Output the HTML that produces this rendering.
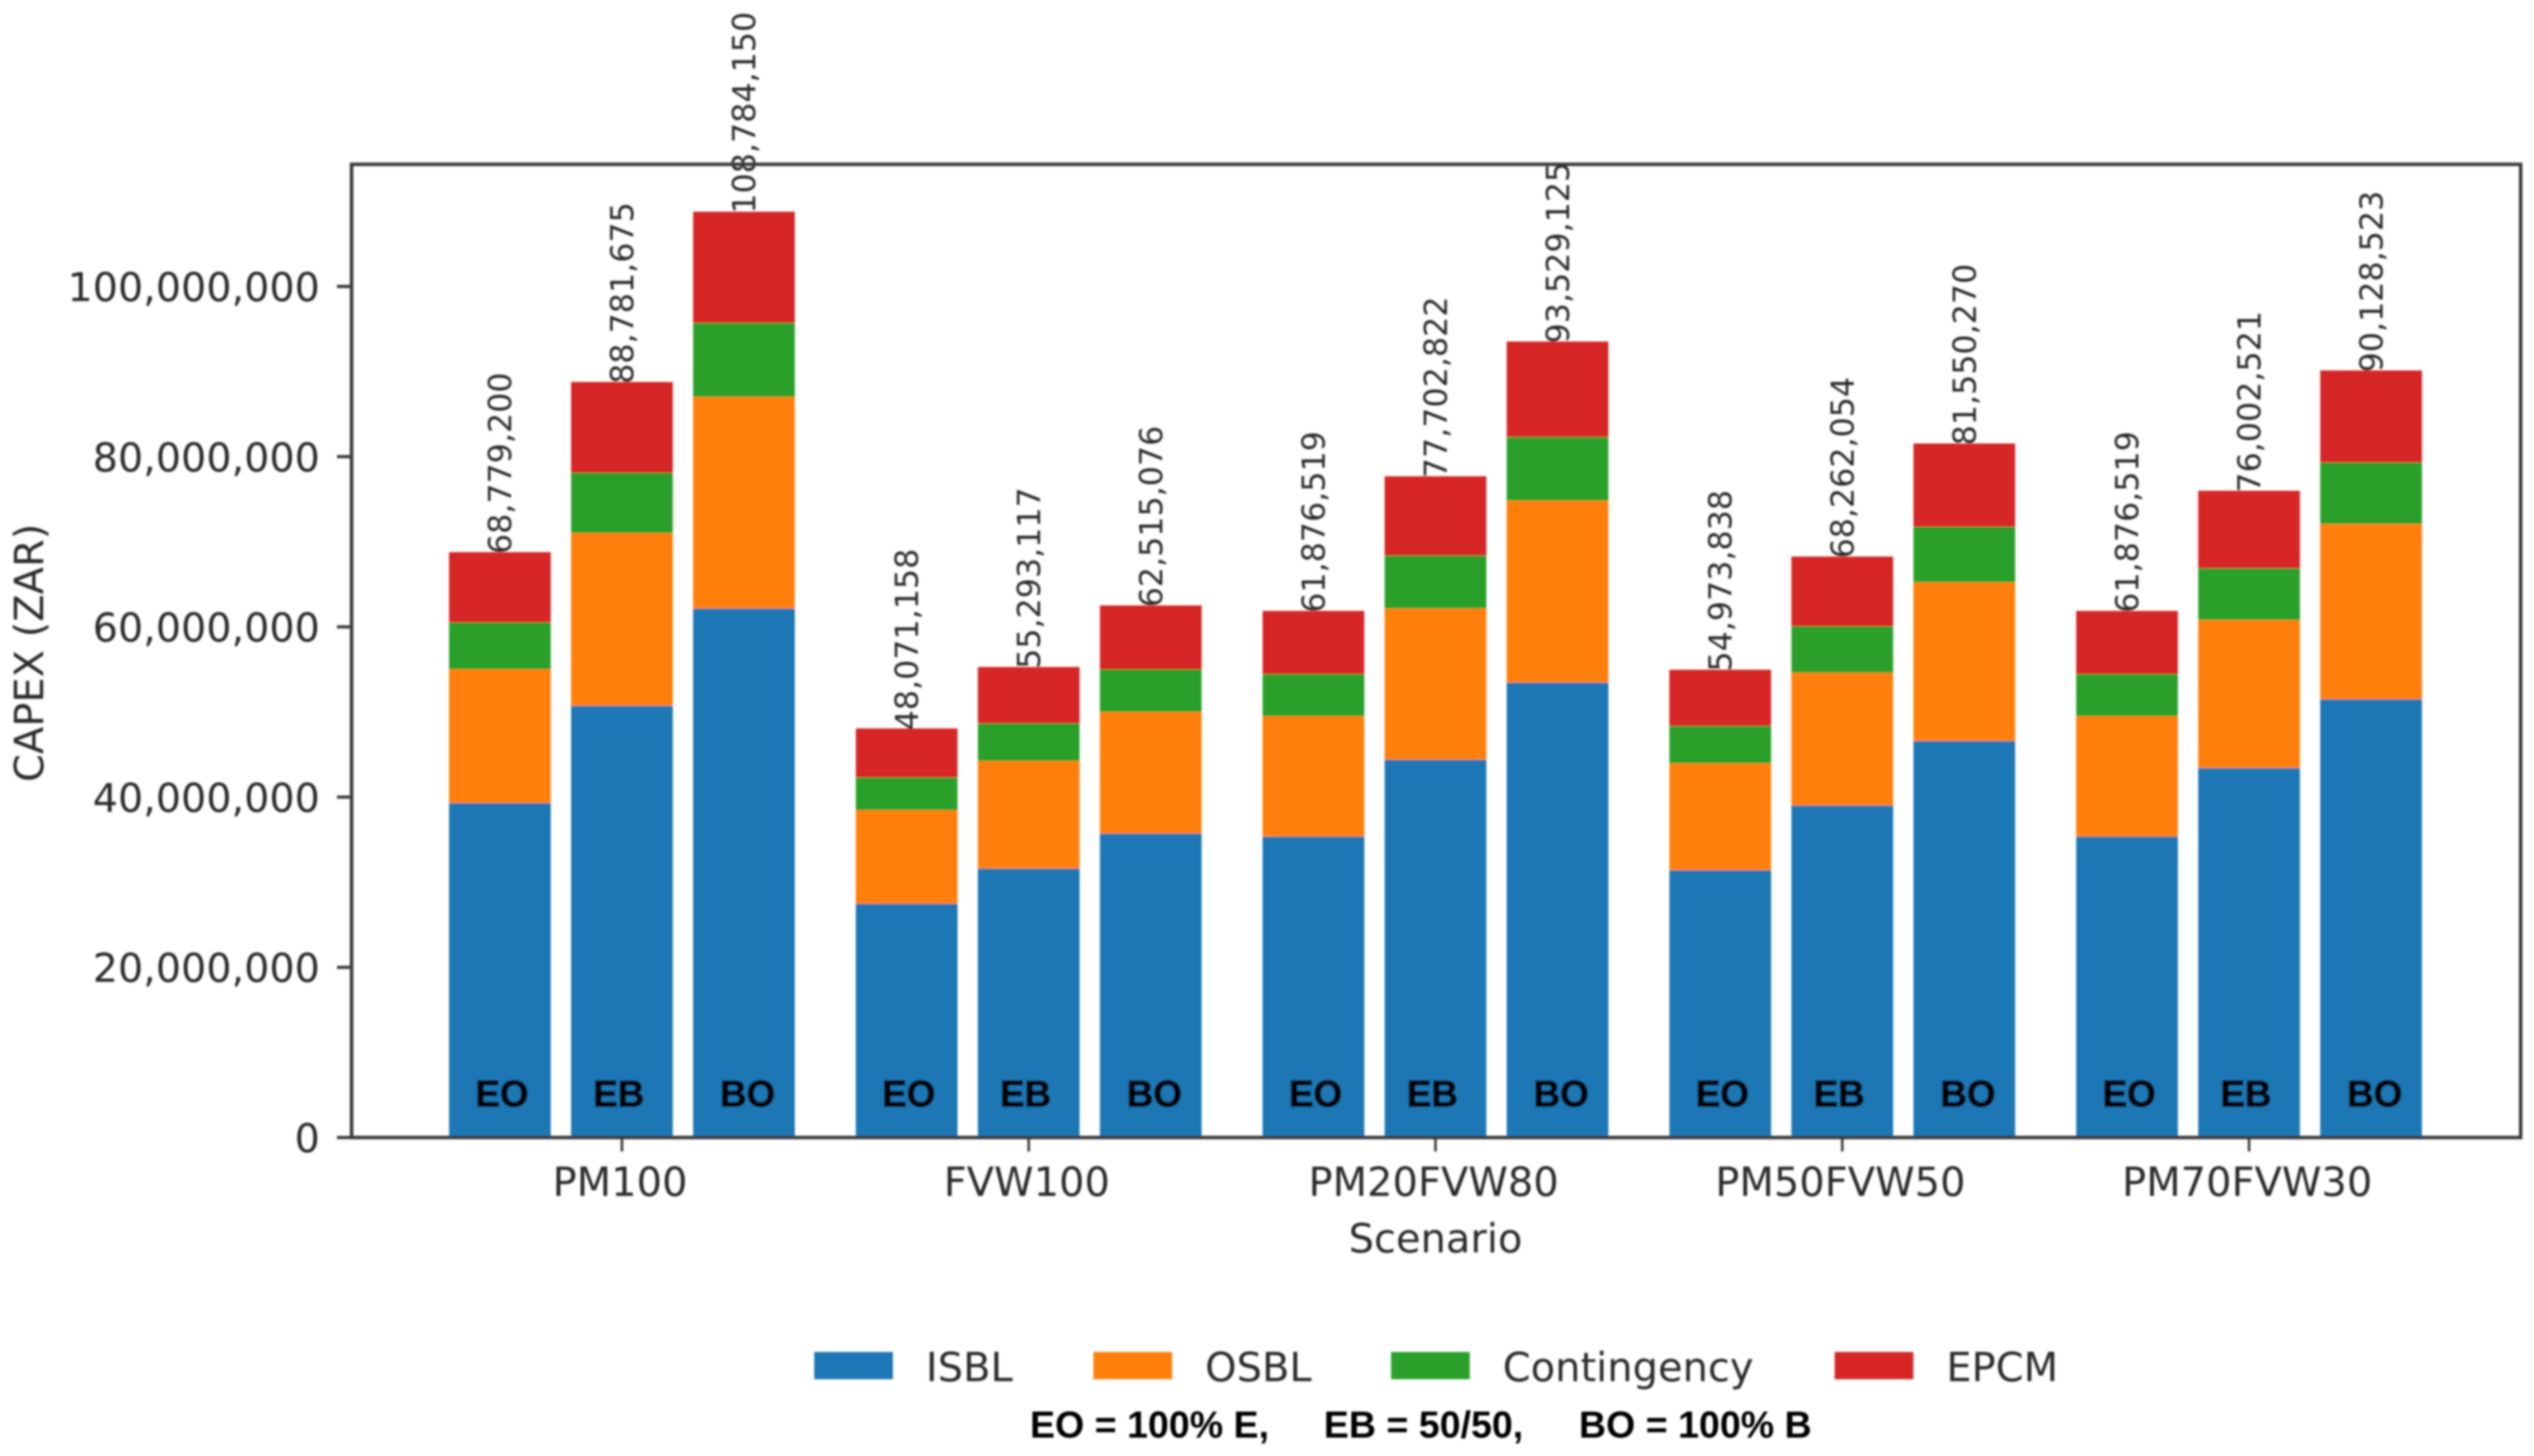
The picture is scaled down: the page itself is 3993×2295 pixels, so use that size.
<!DOCTYPE html>
<html lang="en">
<head>
<meta charset="utf-8">
<title>CAPEX by scenario</title>
<style>
  html, body { margin: 0; padding: 0; background: #fff; }
  svg { display: block; }
  text { font-family: "DejaVu Sans", "Liberation Sans", sans-serif; fill: #2b2b2b; }
  .bold { font-family: "Liberation Sans", sans-serif; font-weight: 700; fill: #000; }
  .heavy { stroke: #000; stroke-width: 1.6px; }
</style>
</head>
<body>
<svg id="chart" xmlns="http://www.w3.org/2000/svg" width="3993" height="2295" viewBox="0 0 3993 2295">
  <defs>
    <filter id="soft" x="-2%" y="-2%" width="104%" height="104%" filterUnits="objectBoundingBox">
      <feGaussianBlur stdDeviation="1.7"/>
    </filter>
  </defs>
  <g id="root" filter="url(#soft)"></g>
</svg>
<script>
const categories = ["PM100", "FVW100", "PM20FVW80", "PM50FVW50", "PM70FVW30"];
const mixes = ["EO", "EB", "BO"];
const seriesNames = ["ISBL", "OSBL", "Contingency", "EPCM"];
const seriesColors = ["#1f77b4", "#ff7f0e", "#2ca02c", "#d62728"];

// Values in ZAR millions, ordered scenario by scenario as EO, EB, BO.
const isbl = [39.30, 50.73, 62.16, 27.47, 31.60, 35.72, 35.36, 44.40, 53.45, 31.41, 39.01, 46.60, 35.36, 43.43, 51.50];
const osbl = [15.72, 20.29, 24.86, 10.99, 12.64, 14.29, 14.14, 17.76, 21.38, 12.56, 15.60, 18.64, 14.14, 17.37, 20.60];
const contingency = [5.50, 7.10, 8.70, 3.85, 4.42, 5.00, 4.95, 6.22, 7.48, 4.40, 5.46, 6.52, 4.95, 6.08, 7.21];
const epcm = [8.26, 10.66, 13.06, 5.76, 6.63, 7.51, 7.43, 9.32, 11.22, 6.60, 8.19, 9.79, 7.43, 9.12, 10.82];
const totalLabels = ["68,779,200", "88,781,675", "108,784,150", "48,071,158", "55,293,117", "62,515,076", "61,876,519", "77,702,822", "93,529,125", "54,973,838", "68,262,054", "81,550,270", "61,876,519", "76,002,521", "90,128,523"];
const yTickValues = [0, 20, 40, 60, 80, 100];
const yTickLabels = ["0", "20,000,000", "40,000,000", "60,000,000", "80,000,000", "100,000,000"];

const seriesValues = [isbl, osbl, contingency, epcm];
const NS = "http://www.w3.org/2000/svg";
const root = document.getElementById("root");

const plot = { left: 554, right: 3972, top: 259, bottom: 1793 };
function yScale(v) { return plot.bottom - v * 13.415; }
function groupX(i) { return 980 + 641 * i; }
function barX(i, m) { return groupX(i) + 641 * 0.3 * (m - 1); }
const barWidth = 641 * 0.25;

function make(tag, attrs, text) {
  const el = document.createElementNS(NS, tag);
  for (const k in attrs) el.setAttribute(k, attrs[k]);
  if (text !== undefined) el.textContent = text;
  root.appendChild(el);
  return el;
}

// Stacked bars
categories.forEach(function (cat, i) {
  mixes.forEach(function (mix, m) {
    const idx = i * mixes.length + m;
    let base = 0;
    seriesValues.forEach(function (vals, s) {
      const v = vals[idx];
      const rect = make("rect", {
        x: barX(i, m) - barWidth / 2,
        y: yScale(base + v),
        width: barWidth,
        height: yScale(base) - yScale(base + v),
        fill: seriesColors[s]
      });
      
      
      base += v;
    });
  });
});

// Value labels and mix labels
function mixLabelX(i, m) {
  if (m === 0) return groupX(i) - 189;
  if (m === 1) return groupX(i) - 5;
  return groupX(i) + 198;
}
categories.forEach(function (cat, i) {
  mixes.forEach(function (mix, m) {
    const idx = i * mixes.length + m;
    const total = seriesValues.reduce(function (acc, vals) { return acc + vals[idx]; }, 0);
    const bx = barX(i, m) + 18;
    const by = yScale(total) + 3;
    const label = make("text", {
      x: bx,
      y: by,
      "font-size": 50,
      transform: "rotate(-90 " + bx + " " + by + ")"
    }, totalLabels[idx]);
    
    

    const mixLabel = make("text", {
      x: mixLabelX(i, m),
      y: 1744,
      "font-size": 58,
      "text-anchor": "middle",
      "class": "bold heavy"
    }, mix);
    
    
  });
});

// Axes frame
const frame = make("rect", {
  x: plot.left,
  y: plot.top,
  width: plot.right - plot.left,
  height: plot.bottom - plot.top,
  fill: "none",
  stroke: "#3a3a3a",
  "stroke-width": 5.5
});



// Y axis ticks
yTickValues.forEach(function (v, t) {
  const y = yScale(v);
  const tick = make("line", { x1: 531, x2: plot.left, y1: y, y2: y, stroke: "#3a3a3a", "stroke-width": 5 });
  
  
  const label = make("text", { x: 504, y: y + 23, "font-size": 62.5, "text-anchor": "end" }, yTickLabels[t]);
  
  
});

// X axis ticks
categories.forEach(function (cat, i) {
  const x = groupX(i);
  const tick = make("line", { x1: x, x2: x, y1: plot.bottom, y2: 1815, stroke: "#3a3a3a", "stroke-width": 4 });
  
  
  const label = make("text", { x: x - 3, y: 1885, "font-size": 63, "text-anchor": "middle" }, cat);
  
  
});

// Axis titles
const xTitle = make("text", { x: 2262, y: 1974, "font-size": 63, "text-anchor": "middle" }, "Scenario");



const yTitle = make("text", { x: 68, y: 1029, "font-size": 63, "text-anchor": "middle", transform: "rotate(-90 68 1029)" }, "CAPEX (ZAR)");



// Legend
const legendSwatchLeft = [1283, 1723, 2192, 2891];
seriesNames.forEach(function (name, s) {
  const x = legendSwatchLeft[s];
  const swatch = make("rect", { x: x, y: 2131, width: 124, height: 43, fill: seriesColors[s] });
  
  
  const label = make("text", { x: x + 176, y: 2177, "font-size": 63 }, name);
  
  
});

// Footnote
const noteA = make("text", { x: 1623, y: 2266, "font-size": 59.2, "class": "bold" }, "EO = 100% E,");


const noteB = make("text", { x: 2086, y: 2266, "font-size": 59.2, "class": "bold" }, "EB = 50/50,");


const noteC = make("text", { x: 2488, y: 2266, "font-size": 59.2, "class": "bold" }, "BO = 100% B");


</script>
</body>
</html>
